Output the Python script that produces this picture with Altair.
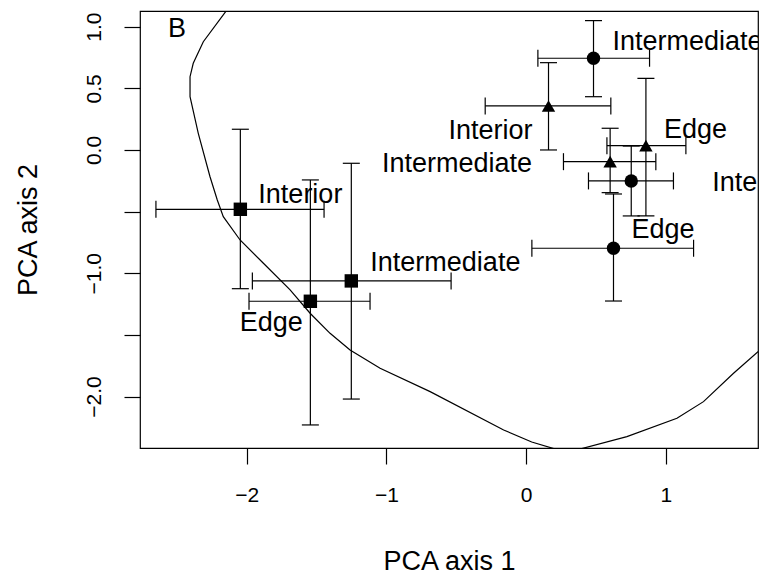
import altair as alt
import pandas as pd

# Group means with error bars on the first two PCA axes
labels = ["Interior", "Intermediate", "Edge",
          "Interior", "Intermediate", "Edge",
          "Intermediate", "Interior", "Edge"]
groups = ["A", "A", "A", "B", "B", "B", "C", "C", "C"]
pc1 = [-2.045, -1.251, -1.544, 0.160, 0.601, 0.857, 0.482, 0.752, 0.625]
pc2 = [-0.481, -1.062, -1.227, 0.357, -0.095, 0.035, 0.744, -0.251, -0.797]
pc1_lo = [-2.649, -1.959, -1.983, -0.293, 0.267, 0.578, 0.084, 0.446, 0.041]
pc1_hi = [-1.446, -0.537, -1.117, 0.606, 0.928, 1.143, 0.883, 1.054, 1.198]
pc2_lo = [-1.125, -2.020, -2.230, 0.000, -0.346, -0.535, 0.432, -0.535, -1.225]
pc2_hi = [0.168, -0.108, -0.243, 0.708, 0.176, 0.581, 1.049, 0.032, -0.357]

# Contour line traced through the ordination space
curve_x = [-2.08, -2.150, -2.310, -2.382, -2.405, -2.405, -2.346, -2.262, -2.210,
           -2.167, -2.047, -1.880, -1.689, -1.546, -1.403, -1.260, -1.045,
           -0.687, -0.161, 0.040, 0.213, 0.387, 0.721, 1.079, 1.269, 1.484,
           1.659, 1.75]
curve_y = [1.22, 1.122, 0.878, 0.703, 0.594, 0.432, 0.135, -0.217, -0.406,
           -0.541, -0.730, -0.919, -1.135, -1.324, -1.487, -1.622, -1.770,
           -1.960, -2.271, -2.368, -2.427, -2.425, -2.325, -2.176, -2.041,
           -1.811, -1.636, -1.52]

x_ticks = [-2, -1, 0, 1]
y_ticks = [-2.0, -1.5, -1.0, -0.5, 0.0, 0.5, 1.0]

pts = pd.DataFrame({"label": labels, "group": groups, "pc1": pc1, "pc2": pc2,
                    "pc1_lo": pc1_lo, "pc1_hi": pc1_hi,
                    "pc2_lo": pc2_lo, "pc2_hi": pc2_hi})
curve = pd.DataFrame({"cx": curve_x, "cy": curve_y, "i": range(len(curve_x))})

FONT = "Liberation Sans"
LW = 1.2
CAP = 17
TXT = 27
TICK_TXT = 21

xs = alt.Scale(domain=[-2.763, 1.659], nice=False, zero=False)
ys = alt.Scale(domain=[-2.417, 1.127], nice=False, zero=False)

x_axis = alt.Axis(values=x_ticks, title="PCA axis 1", format="d",
                  labelPadding=20, titleY=121, titleBaseline="alphabetic")
y_axis = alt.Axis(values=y_ticks, title="PCA axis 2",
                  labelExpr="(abs(datum.value + 0.5) < 1e-6 || abs(datum.value + 1.5) < 1e-6) ? '' : format(datum.value, '.1f')",
                  labelAngle=-90, labelAlign="center", labelBaseline="alphabetic",
                  labelPadding=24, titleAngle=-90, titleX=-104, titleY=218.5,
                  titleBaseline="alphabetic", titleAlign="center")

base = alt.Chart(pts)

contour = alt.Chart(curve).mark_line(color="black", strokeWidth=LW, clip=True).encode(
    x=alt.X("cx:Q", scale=xs, axis=x_axis),
    y=alt.Y("cy:Q", scale=ys, axis=y_axis),
    order="i:O",
)

hbar = base.mark_rule(color="black", strokeWidth=LW).encode(
    x=alt.X("pc1_lo:Q", scale=xs), x2="pc1_hi:Q", y=alt.Y("pc2:Q", scale=ys))
vbar = base.mark_rule(color="black", strokeWidth=LW).encode(
    y=alt.Y("pc2_lo:Q", scale=ys), y2="pc2_hi:Q", x=alt.X("pc1:Q", scale=xs))

caps = []
for fx in ["pc1_lo", "pc1_hi"]:
    caps.append(base.mark_tick(orient="vertical", color="black", thickness=LW,
                               size=CAP, opacity=1).encode(
        x=alt.X(f"{fx}:Q", scale=xs), y=alt.Y("pc2:Q", scale=ys)))
for fy in ["pc2_lo", "pc2_hi"]:
    caps.append(base.mark_tick(orient="horizontal", color="black", thickness=LW,
                               size=CAP, opacity=1).encode(
        x=alt.X("pc1:Q", scale=xs), y=alt.Y(f"{fy}:Q", scale=ys)))

points = base.mark_point(filled=True, color="black", opacity=1, size=180).encode(
    x=alt.X("pc1:Q", scale=xs),
    y=alt.Y("pc2:Q", scale=ys),
    shape=alt.Shape("group:N", legend=None,
                    scale=alt.Scale(domain=["A", "B", "C"],
                                    range=["square", "triangle-up", "circle"])),
)

# Per-label placement (pixel offsets from each point)
label_style = [
    dict(align="left", dx=18, dy=-14),
    dict(align="left", dx=19, dy=-18),
    dict(align="center", dx=-39, dy=22),
    dict(align="right", dx=-16, dy=25),
    dict(align="right", dx=-78, dy=2),
    dict(align="left", dx=18, dy=-16),
    dict(align="left", dx=19, dy=-16),
    dict(align="left", dx=81, dy=2),
    dict(align="left", dx=18, dy=-18),
]
texts = []
for i, st in enumerate(label_style):
    texts.append(alt.Chart(pts.iloc[[i]]).mark_text(
        font=FONT, fontSize=TXT, color="black", baseline="middle", clip=True, **st
    ).encode(x=alt.X("pc1:Q", scale=xs), y=alt.Y("pc2:Q", scale=ys), text="label:N"))

panel = alt.Chart(pd.DataFrame({"t": ["B"]})).mark_text(
    font=FONT, fontSize=TXT, color="black", align="left", baseline="alphabetic"
).encode(x=alt.value(28), y=alt.value(26), text="t:N")

chart = alt.layer(contour, hbar, vbar, *caps, points, *texts, panel).properties(
    width=618, height=437,
    background="white",
    autosize=alt.AutoSizeParams(type="none"),
    padding={"left": 140, "top": 11, "right": 2, "bottom": 133},
).configure_view(
    stroke="black", strokeWidth=LW
).configure_axis(
    domain=False, grid=False, ticks=True, tickSize=16, tickColor="black",
    tickWidth=LW, labelFont=FONT, labelFontSize=TICK_TXT, labelColor="black",
    titleFont=FONT, titleFontSize=TXT, titleColor="black", titleFontWeight="normal",
    labelOverlap=False, labelFlush=False,
)

chart.save("out.html", embed_options={"renderer": "svg", "actions": False})
